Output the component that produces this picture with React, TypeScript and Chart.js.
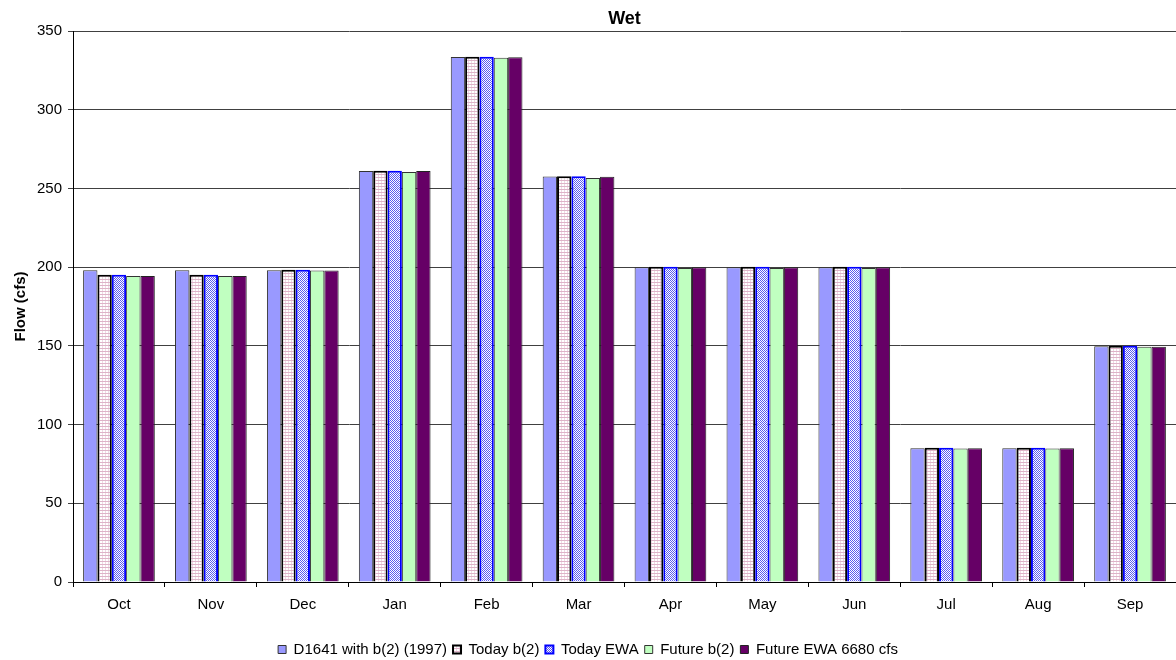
import React, { useEffect, useRef } from "react";
import { Chart, registerables } from "chart.js";

Chart.register(...registerables);

const months = ["Oct", "Nov", "Dec", "Jan", "Feb", "Mar", "Apr", "May", "Jun", "Jul", "Aug", "Sep"];
const d1641 = [198, 198, 198, 261.1, 333.5, 257.5, 200, 200, 200, 85, 85, 149.7];
const todayB2 = [195.2, 195.2, 198.4, 261.3, 333.7, 257.7, 200.2, 200.2, 200.2, 85.3, 85.3, 150.1];
const todayEwa = [195.2, 195.2, 198.4, 261.3, 333.7, 257.7, 200.2, 200.2, 200.2, 85.3, 85.3, 150.1];
const futureB2 = [194.4, 194.4, 197.8, 260.5, 333.0, 256.6, 199.4, 199.4, 199.4, 84.8, 84.8, 149.4];
const futureEwa = [194.4, 194.4, 197.8, 261.1, 333.3, 257.4, 200, 200, 200, 85, 85, 149.4];

const seriesNames = ["D1641 with b(2) (1997)", "Today b(2)", "Today EWA", "Future b(2)", "Future EWA 6680 cfs"];
const yTicks = [0, 50, 100, 150, 200, 250, 300, 350];

function makePattern(size: number, draw: (c: CanvasRenderingContext2D) => void): CanvasPattern | string {
  const cv = document.createElement("canvas");
  cv.width = size;
  cv.height = size;
  const c = cv.getContext("2d");
  if (!c) return "#ccc";
  draw(c);
  const p = c.createPattern(cv, "repeat");
  return p || "#ccc";
}

export default function App() {
  const ref = useRef<HTMLCanvasElement | null>(null);

  useEffect(() => {
    document.body.style.margin = "0";
    document.body.style.overflow = "hidden";
    const canvas = ref.current;
    if (!canvas) return;

    const pinkPattern = makePattern(3, (c) => {
      c.fillStyle = "#ffffff";
      c.fillRect(0, 0, 3, 3);
      c.fillStyle = "#deb3c8";
      c.fillRect(0, 0, 3, 1);
      c.fillStyle = "#efd9e4";
      c.fillRect(0, 1, 1, 2);
    });
    const bluePattern = makePattern(2, (c) => {
      c.fillStyle = "#ffffff";
      c.fillRect(0, 0, 2, 2);
      c.fillStyle = "#5a5af0";
      c.fillRect(0, 0, 1, 1);
      c.fillRect(1, 1, 1, 1);
    });

    Chart.defaults.font.family = "'Liberation Sans', Arial, sans-serif";
    Chart.defaults.color = "#000";

    const chart = new Chart(canvas, {
      type: "bar",
      data: {
        labels: months,
        datasets: [
          { label: seriesNames[0], data: d1641, backgroundColor: "#9999ff", borderColor: "#333333", borderWidth: 1 },
          { label: seriesNames[1], data: todayB2, backgroundColor: pinkPattern as any, borderColor: "#000000", borderWidth: 2 },
          { label: seriesNames[2], data: todayEwa, backgroundColor: bluePattern as any, borderColor: "#0000ff", borderWidth: 2 },
          { label: seriesNames[3], data: futureB2, backgroundColor: "#c0ffc0", borderColor: "#333333", borderWidth: 1 },
          { label: seriesNames[4], data: futureEwa, backgroundColor: "#660066", borderColor: "#222222", borderWidth: 1 },
        ],
      },
      options: {
        responsive: false,
        animation: false,
        layout: { padding: { left: 0, right: 0, top: 0, bottom: 0 } },
        datasets: {
          bar: { categoryPercentage: 0.78, barPercentage: 1 },
        },
        plugins: {
          title: {
            display: true,
            text: "Wet",
            fullSize: false,
            font: { size: 18, weight: "bold" },
            color: "#000",
            padding: { top: 8, bottom: 1.4 },
          },
          legend: {
            position: "bottom",
            labels: {
              boxWidth: 8,
              boxHeight: 8,
              padding: 6,
              font: { size: 15 },
              color: "#000",
            },
          },
          tooltip: { enabled: false },
        },
        scales: {
          x: {
            grid: {
              display: true,
              drawOnChartArea: false,
              drawTicks: true,
              tickLength: 5,
              color: "#000",
              offset: true,
            },
            border: { display: true, color: "#000" },
            ticks: { font: { size: 15 }, color: "#000", padding: 9, maxRotation: 0, autoSkip: false },
            afterFit: (s: any) => {
              s.height = 54;
            },
          },
          y: {
            min: 0,
            max: 350,
            afterBuildTicks: (s: any) => {
              s.ticks = yTicks.map((v) => ({ value: v }));
            },
            grid: {
              color: "#404040",
              lineWidth: 1,
              drawTicks: true,
              tickLength: 5,
            },
            border: { display: true, color: "#000" },
            ticks: { font: { size: 15 }, color: "#000", padding: 6 },
            title: {
              display: true,
              text: "Flow (cfs)",
              font: { size: 15, weight: "bold" },
              color: "#000",
              padding: { top: 12, bottom: 0 },
            },
            afterFit: (s: any) => {
              s.width = 73;
            },
          },
        },
      },
    });
    return () => chart.destroy();
  }, []);

  return (
    <div style={{ width: 1176, height: 660, overflow: "hidden" }}>
      <canvas ref={ref} width={1176} height={667} style={{ display: "block" }} />
    </div>
  );
}
